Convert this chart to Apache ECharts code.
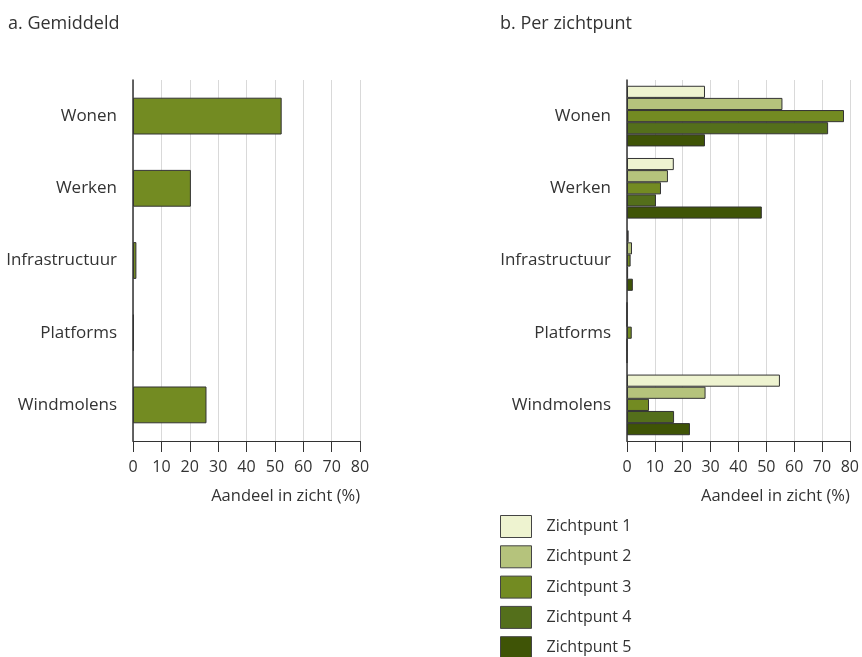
<!DOCTYPE html>
<html>
<head>
<meta charset="utf-8">
<script src="https://cdn.jsdelivr.net/npm/echarts@6/dist/echarts.min.js"></script>
<style>
  html, body { margin: 0; padding: 0; background: #fff; }
  #chart { width: 862px; height: 657px; }
</style>
</head>
<body>
<div id="chart"></div>
<script>
// Categories of land use in view
const categories = ['Wonen', 'Werken', 'Infrastructuur', 'Platforms', 'Windmolens'];
const xTicks = [0, 10, 20, 30, 40, 50, 60, 70, 80];

// a. Gemiddeld (share in view, %)
const gemiddeld = [52.4, 20.4, 1.2, 0.3, 25.9];

// b. Per zichtpunt (share in view, %)
const zichtpunt1 = [28.0, 16.8, 0.6, 0, 54.9];
const zichtpunt2 = [55.8, 14.7, 1.8, 0, 28.2];
const zichtpunt3 = [77.9, 12.2, 1.3, 1.7, 7.9];
const zichtpunt4 = [72.2, 10.4, 0.4, 0, 16.9];
const zichtpunt5 = [28.0, 48.4, 2.1, 0, 22.6];

const seriesNames = ['Zichtpunt 1', 'Zichtpunt 2', 'Zichtpunt 3', 'Zichtpunt 4', 'Zichtpunt 5'];
const seriesData = [zichtpunt1, zichtpunt2, zichtpunt3, zichtpunt4, zichtpunt5];
const colors = ['#eef3d0', '#b5c37c', '#738b22', '#546f1b', '#3f5406'];

const FONT = 'Open Sans';
const TXT = '#333333';

function valueAxis(gridIndex) {
  return {
    type: 'value', gridIndex, min: 0, max: 80, interval: 10,
    axisLine: { show: true, lineStyle: { color: '#333', width: 1 } },
    axisTick: { show: true, length: 11, inside: false, lineStyle: { color: '#333' } },
    axisLabel: { color: TXT, fontFamily: FONT, fontSize: 16, margin: 18,
      formatter: v => xTicks.includes(v) ? String(v) : '' },
    splitLine: { show: true, lineStyle: { color: '#d9d9d9', width: 1 } },
    name: 'Aandeel in zicht (%)', nameLocation: 'end', nameGap: 0,
    nameTextStyle: { color: TXT, fontFamily: FONT, fontSize: 16.5,
      align: 'right', verticalAlign: 'top', padding: [47, 0, 0, 0] }
  };
}
function categoryAxis(gridIndex) {
  return {
    type: 'category', gridIndex, data: categories, inverse: true,
    axisLine: { show: true, lineStyle: { color: '#333', width: 1.5 } },
    axisTick: { show: false },
    axisLabel: { color: TXT, fontFamily: FONT, fontSize: 17, margin: 16 },
    splitLine: { show: false }
  };
}

const series = [{
  type: 'bar', xAxisIndex: 0, yAxisIndex: 0, name: 'Gemiddeld',
  data: gemiddeld, barCategoryGap: '49%',
  itemStyle: { color: '#738b22', borderColor: '#333', borderWidth: 1 },
  silent: true
}];
seriesData.forEach((d, i) => {
  series.push({
    type: 'bar', xAxisIndex: 1, yAxisIndex: 1, name: seriesNames[i],
    data: d, barGap: '0%', barCategoryGap: '16%',
    itemStyle: { color: colors[i], borderColor: '#333', borderWidth: 1 },
    silent: true
  });
});

const chart = echarts.init(document.getElementById('chart'), null, { renderer: 'canvas' });
chart.setOption({
  animation: false,
  backgroundColor: '#fff',
  title: [
    { text: 'a. Gemiddeld', left: 3, top: 10,
      textStyle: { color: TXT, fontFamily: FONT, fontSize: 18, fontWeight: 'normal' } },
    { text: 'b. Per zichtpunt', left: 495, top: 10,
      textStyle: { color: TXT, fontFamily: FONT, fontSize: 18, fontWeight: 'normal' } }
  ],
  grid: [
    { left: 133, width: 227, top: 80, height: 361 },
    { left: 627, width: 227, top: 80, height: 361 }
  ],
  xAxis: [valueAxis(0), valueAxis(1)],
  yAxis: [categoryAxis(0), categoryAxis(1)],
  legend: {
    data: seriesNames, orient: 'vertical', left: 500, top: 515, height: 160,
    padding: 0, itemWidth: 31, itemHeight: 22, itemGap: 7.3,
    icon: 'rect', selectedMode: false,
    itemStyle: { borderColor: '#444', borderWidth: 1 },
    textStyle: { color: TXT, fontFamily: FONT, fontSize: 16, padding: [0, 0, 0, 10] }
  },
  series
});
</script>
</body>
</html>
